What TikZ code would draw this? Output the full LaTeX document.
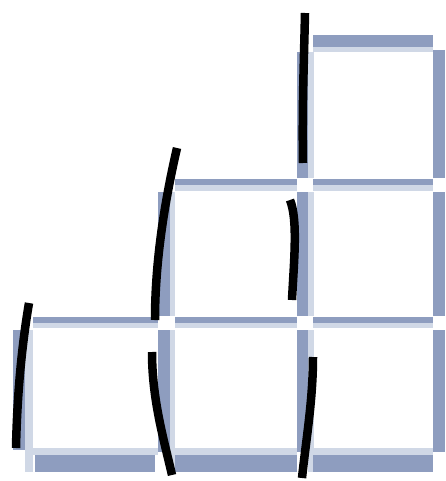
\documentclass[tikz,border=0pt]{standalone}
\begin{document}
\begin{tikzpicture}[x=1pt,y=-1pt,
  darkband/.style={draw=gridDark,line cap=butt},
  lightband/.style={draw=gridLight,line cap=butt},
  ink/.style={draw=black,line width=8.5pt,line cap=butt}]
\definecolor{gridDark}{HTML}{8E9DBF}
\definecolor{gridLight}{HTML}{D0D8E6}
\useasboundingbox[fill=white] (0,0) rectangle (445,481);
% light halos
\draw[lightband,line width=5pt] (313,49.5) -- (433,49.5);
\draw[lightband,line width=6pt] (175,188) -- (297,188) (313,188) -- (433,188);
\draw[lightband,line width=6pt] (33,325) -- (158,325) (175,325) -- (297,325) (313,325) -- (433,325);
\draw[lightband,line width=7pt] (33,451.5) -- (158,451.5) (175,451.5) -- (297,451.5) (313,451.5) -- (433,451.5);
\draw[lightband,line width=8pt] (29,330) -- (29,472);
\draw[lightband,line width=6pt] (172,192) -- (172,316) (172,330) -- (172,472);
\draw[lightband,line width=6pt] (310.5,52) -- (310.5,178) (310.5,192) -- (310.5,316) (310.5,330) -- (310.5,472);
% dark bands
\draw[darkband,line width=12pt] (313,41) -- (433,41);
\draw[darkband,line width=6pt] (175,182) -- (297,182) (313,182) -- (433,182);
\draw[darkband,line width=6pt] (33,320) -- (158,320) (175,320) -- (297,320) (313,320) -- (433,320);
\draw[darkband,line width=17pt] (35,463.5) -- (155,463.5) (175,463.5) -- (297,463.5) (313,463.5) -- (433,463.5);
\draw[darkband,line width=12pt] (19,330) -- (19,450);
\draw[darkband,line width=12pt] (164,192) -- (164,316) (164,330) -- (164,452);
\draw[darkband,line width=11pt] (302.5,52) -- (302.5,178) (302.5,192) -- (302.5,316) (302.5,330) -- (302.5,452);
\draw[darkband,line width=12pt] (439,50) -- (439,178) (439,192) -- (439,316) (439,330) -- (439,452);
% black strokes
\draw[ink] (29,303) .. controls (21,350) and (17,400) .. (16,448);
\draw[ink] (177,148) .. controls (165,200) and (155,260) .. (155,320);
\draw[ink] (152,352) .. controls (152,400) and (164,440) .. (172,475);
\draw[ink] (305,13) .. controls (304,60) and (302,110) .. (303,163);
\draw[ink] (290,200) .. controls (298,220) and (294,260) .. (292,300);
\draw[ink] (313,357) .. controls (313,400) and (306,440) .. (302,478);
\end{tikzpicture}
\end{document}
